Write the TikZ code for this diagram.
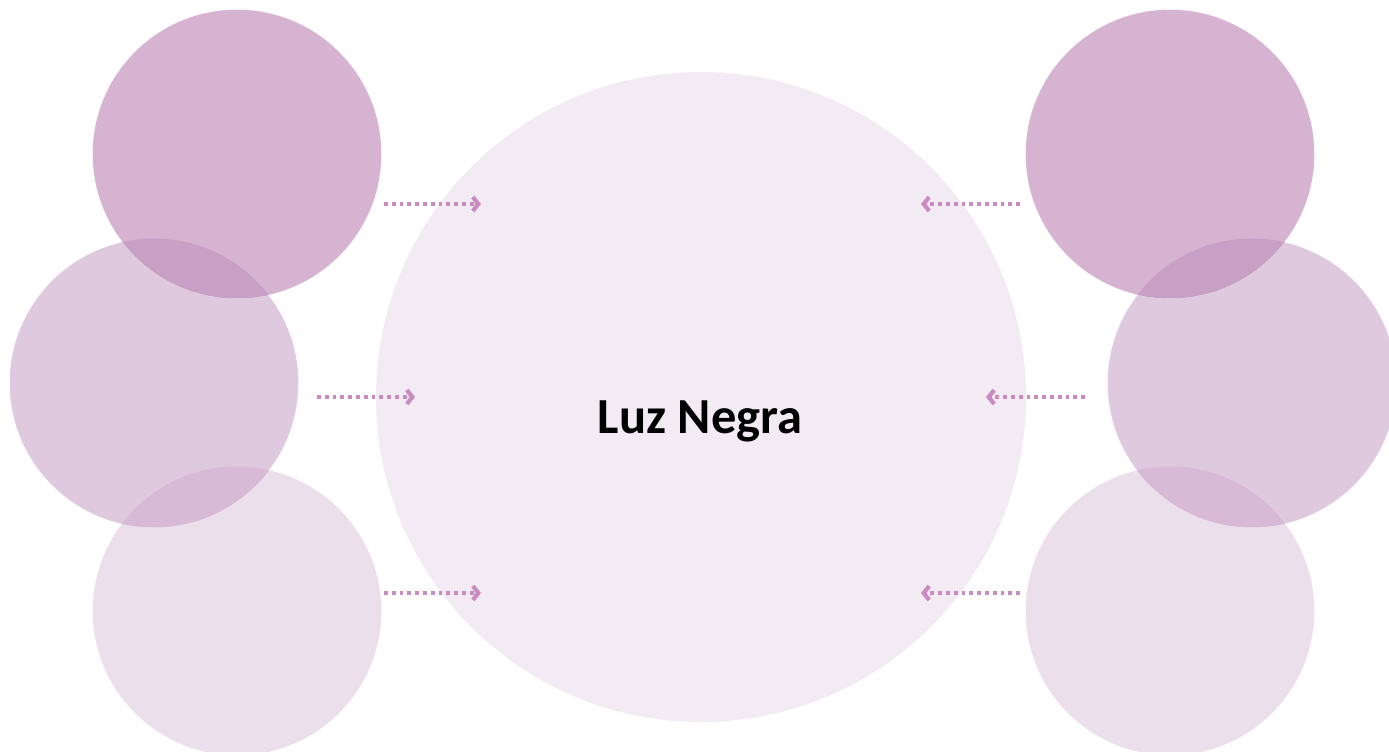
\documentclass[tikz,border=0pt]{standalone}
\usepackage{fontspec}
\setmainfont{Carlito}
\usetikzlibrary{arrows.meta}
\definecolor{cTop}{HTML}{D5B3D1}
\definecolor{cMid}{HTML}{DFC9DF}
\definecolor{cBot}{HTML}{EBDFEC}
\definecolor{cBig}{HTML}{F3EBF3}
\definecolor{lensA}{HTML}{C9A0C5}
\definecolor{lensB}{HTML}{D8BAD6}
\definecolor{arr}{HTML}{C98BC0}
\begin{document}
\begin{tikzpicture}[x=1pt,y=-1pt,
  bubble/.style={circle,inner sep=0pt,minimum size=289pt,draw=white,draw opacity=0.5,line width=0.6pt},
  flow/.style={draw=arr,line width=3.8pt,dash pattern=on 3.8pt off 4pt,
    -{Straight Barb[length=5.5pt,width=14pt,line width=4.2pt]}}]
\useasboundingbox (0,0) rectangle (1389,752);
\fill[white] (0,0) rectangle (1389,752);
% central circle
\node[circle,inner sep=0pt,minimum size=650pt,fill=cBig] (big) at (701,397) {};
\node[font=\bfseries\fontsize{50.5}{60}\selectfont] (lbl) at (700,421) {Luz Negra};
% left bubbles
\node[bubble,fill=cBot] (lb) at (237,611) {};
\node[bubble,fill=cMid] (lm) at (154,383) {};
\node[bubble,fill=cTop] (lt) at (237,154) {};
% right bubbles
\node[bubble,fill=cBot] (rb) at (1170,611) {};
\node[bubble,fill=cMid] (rm) at (1252,383) {};
\node[bubble,fill=cTop] (rt) at (1170,154) {};
% lenses
\begin{scope}
  \clip (lt.center) circle[radius=144.5];
  \fill[lensA] (lm.center) circle[radius=144.5];
\end{scope}
\begin{scope}
  \clip (lm.center) circle[radius=144.5];
  \fill[lensB] (lb.center) circle[radius=144.5];
\end{scope}
\begin{scope}
  \clip (rt.center) circle[radius=144.5];
  \fill[lensA] (rm.center) circle[radius=144.5];
\end{scope}
\begin{scope}
  \clip (rm.center) circle[radius=144.5];
  \fill[lensB] (rb.center) circle[radius=144.5];
\end{scope}
% arrow end points
\coordinate (a1s) at (384,204); \coordinate (a1e) at (481,204);
\coordinate (a2s) at (317,397); \coordinate (a2e) at (415,397);
\coordinate (a3s) at (384,593); \coordinate (a3e) at (481,593);
\coordinate (b1s) at (1020,204); \coordinate (b1e) at (921,204);
\coordinate (b2s) at (1085,397); \coordinate (b2e) at (986,397);
\coordinate (b3s) at (1020,593); \coordinate (b3e) at (921,593);
\draw[flow] (a1s) -- (a1e);
\draw[flow] (a2s) -- (a2e);
\draw[flow] (a3s) -- (a3e);
\draw[flow] (b1s) -- (b1e);
\draw[flow] (b2s) -- (b2e);
\draw[flow] (b3s) -- (b3e);
\end{tikzpicture}
\end{document}
